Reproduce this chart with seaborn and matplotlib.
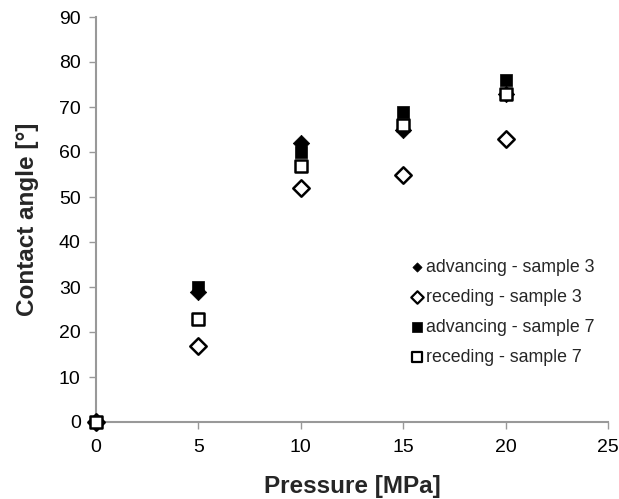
import matplotlib
matplotlib.use("Agg")
import matplotlib.pyplot as plt
import seaborn as sns
import pandas as pd

pressure = [0, 5, 10, 15, 20]
adv_s3 = [0, 29, 62, 65, 73]
rec_s3 = [0, 17, 52, 55, 63]
adv_s7 = [0, 30, 60, 69, 76]
rec_s7 = [0, 23, 57, 66, 73]
series_names = ["advancing - sample 3", "receding - sample 3",
                "advancing - sample 7", "receding - sample 7"]

sns.set_theme(style="white")
plt.rcParams['font.family'] = ['Liberation Sans', 'DejaVu Sans']

fig = plt.figure(figsize=(6.19, 4.99), dpi=100)
ax = fig.add_axes([96/619, 1-422/499, (608-96)/619, (422-17)/499])

styles = [
    dict(marker="D", s=70, color="black", edgecolor="black", linewidth=0.5),
    dict(marker="D", s=70, color="white", edgecolor="black", linewidth=1.8),
    dict(marker="s", s=75, color="black", edgecolor="black", linewidth=0.5),
    dict(marker="s", s=75, color="white", edgecolor="black", linewidth=1.8),
]
for name, vals, st in zip(series_names, [adv_s3, rec_s3, adv_s7, rec_s7], styles):
    df = pd.DataFrame({"Pressure": pressure, "Angle": vals})
    sns.scatterplot(data=df, x="Pressure", y="Angle", ax=ax, label=name,
                    clip_on=False, zorder=3, **st)

ax.set_xlim(0, 25)
ax.set_ylim(0, 90)
ax.set_xticks(range(0, 26, 5))
ax.set_yticks(range(0, 91, 10))
for sp in ["top", "right"]:
    ax.spines[sp].set_visible(False)
for sp in ["left", "bottom"]:
    ax.spines[sp].set_color("#999999")
    ax.spines[sp].set_linewidth(1.5)
ax.tick_params(axis="both", which="both", direction="out", length=5, width=1,
               color="#999999", labelsize=14, labelcolor="black",
               bottom=True, left=True)
ax.tick_params(axis="x", pad=7)
ax.tick_params(axis="y", pad=6)
ax.set_xlabel("Pressure [MPa]", fontsize=17.5, fontweight="bold", labelpad=14)
ax.set_ylabel("Contact angle [°]", fontsize=17.5, fontweight="bold", labelpad=14)

handles, labels = ax.get_legend_handles_labels()
leg = ax.legend(handles, labels, loc="upper left", bbox_to_anchor=(0.596, 0.42),
                frameon=False, fontsize=12.8, handlelength=1.0,
                handletextpad=0.0, labelspacing=0.73, borderaxespad=0)
for h, sz, lw in zip(leg.legend_handles, [22, 40, 45, 45], [0.5, 1.6, 0.5, 1.6]):
    h.set_sizes([sz])
    h.set_linewidth(lw)

fig.savefig("out.png", dpi=100)
